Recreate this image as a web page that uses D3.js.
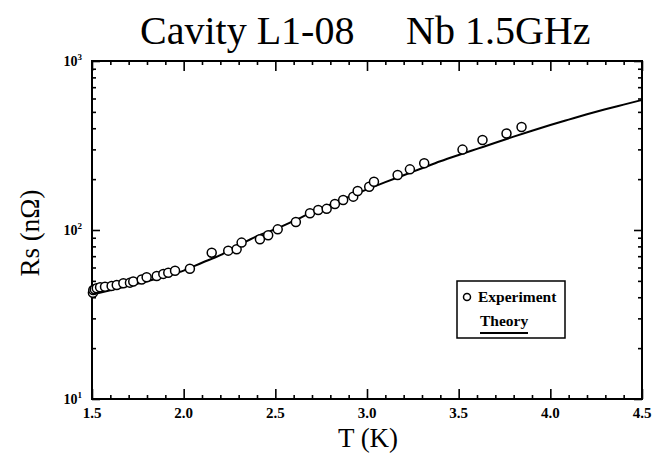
<!DOCTYPE html>
<html>
<head>
<meta charset="utf-8">
<script src="https://cdn.jsdelivr.net/npm/d3@7"></script>
<style>
  body { margin: 0; background: #fff; }
  text { font-family: "Liberation Serif", "Times New Roman", serif; fill: #000; }
</style>
</head>
<body>
<script>

// measured surface resistance, T in K, Rs in nOhm
var expT = [1.505, 1.507, 1.515, 1.526, 1.544, 1.571, 1.607, 1.635, 1.671, 1.707, 1.725,
            1.771, 1.798, 1.853, 1.889, 1.916, 1.953, 2.034, 2.153, 2.243, 2.289, 2.316,
            2.416, 2.461, 2.513, 2.612, 2.689, 2.734, 2.780, 2.825, 2.870, 2.925, 2.949,
            3.012, 3.038, 3.167, 3.234, 3.312, 3.521, 3.630, 3.761, 3.843];
var expRs = [42.5, 44.2, 44.6, 45.2, 45.8, 46.2, 46.7, 47.3, 48.4, 48.8, 49.6,
             51.0, 52.5, 53.4, 55.0, 55.9, 57.4, 59.0, 73.4, 75.5, 76.9, 84.2,
             88.1, 93.0, 100.9, 111.5, 125.6, 131.3, 133.4, 142.6, 150.6, 157.5, 170.2,
             180.4, 193.2, 211.5, 228.5, 248.1, 299, 341, 372, 407];

// BCS fit
var theoryT = [1.5, 1.6, 1.7, 1.8, 1.9, 2.0, 2.1, 2.2, 2.3, 2.4, 2.5, 2.6, 2.7, 2.8, 2.9,
               3.0, 3.1, 3.2, 3.3, 3.4, 3.5, 3.6, 3.7, 3.8, 3.9, 4.0, 4.1, 4.2, 4.3, 4.4, 4.5];
var theoryRs = [41.5, 44, 46.8, 49.8, 53.3, 57.5, 64, 71, 81, 92, 101, 113, 127, 141, 157,
                174, 192, 211, 232, 255, 278, 302, 328, 357, 387, 418, 450, 484, 518, 552, 588];

var xMajor = [1.5, 2.0, 2.5, 3.0, 3.5, 4.0, 4.5];
var xLabels = ["1.5", "2.0", "2.5", "3.0", "3.5", "4.0", "4.5"];
var yMajor = [10, 100, 1000];
var yExp = ["1", "2", "3"];

var width = 653,
    height = 455,
    pLeft = 92,
    pRight = 642,
    pTop = 61,
    pBottom = 399;

var svg = d3.select("body").append("svg")
    .attr("width", width)
    .attr("height", height);

var x = d3.scaleLinear().domain([1.5, 4.5]).range([pLeft, pRight]);
var y = d3.scaleLog().domain([10, 1000]).range([pBottom, pTop]);

var xMinor = d3.range(15, 46).map(function(d) { return d / 10; })
    .filter(function(d) { return xMajor.indexOf(d) < 0; });
var yMinor = [];
[10, 100].forEach(function(b) {
    for (var k = 2; k <= 9; k++) yMinor.push(b * k);
});

function tickAxis(gen, vals, size, tx, ty) {
    svg.append("g")
        .attr("transform", "translate(" + tx + "," + ty + ")")
        .call(gen.tickValues(vals).tickSize(size).tickSizeOuter(0).tickFormat(""))
        .call(function(g) {
            g.select(".domain").remove();
            g.selectAll("line").attr("stroke", "#000").attr("stroke-width", 1.6);
        });
}

// inward ticks on all four sides
tickAxis(d3.axisBottom(x), xMinor, -4, 0, pBottom);
tickAxis(d3.axisBottom(x), xMajor, -10, 0, pBottom);
tickAxis(d3.axisTop(x), xMinor, -4, 0, pTop);
tickAxis(d3.axisTop(x), xMajor, -10, 0, pTop);
tickAxis(d3.axisLeft(y), yMinor, -4, pLeft, 0);
tickAxis(d3.axisLeft(y), yMajor, -8, pLeft, 0);
tickAxis(d3.axisRight(y), yMinor, -4, pRight, 0);
tickAxis(d3.axisRight(y), yMajor, -8, pRight, 0);

svg.append("rect")
    .attr("x", pLeft).attr("y", pTop)
    .attr("width", pRight - pLeft).attr("height", pBottom - pTop)
    .attr("fill", "none").attr("stroke", "#000").attr("stroke-width", 2);

// tick labels
svg.selectAll(".xlab")
    .data(xMajor)
    .enter().append("text")
    .attr("class", "xlab")
    .attr("x", function(d) { return x(d); })
    .attr("y", pBottom + 19)
    .attr("text-anchor", "middle")
    .attr("font-size", 15)
    .attr("font-weight", "bold")
    .text(function(d, i) { return xLabels[i]; });

var ylab = svg.selectAll(".ylab")
    .data(yMajor)
    .enter().append("text")
    .attr("class", "ylab")
    .attr("x", pLeft - 10)
    .attr("y", function(d) { return y(d) + 5; })
    .attr("text-anchor", "end")
    .attr("font-size", 14)
    .attr("font-weight", "bold");
ylab.append("tspan").text("10");
ylab.append("tspan")
    .attr("dy", -6)
    .attr("font-size", 9)
    .text(function(d, i) { return yExp[i]; });

// theory curve
var line = d3.line()
    .x(function(d, i) { return x(theoryT[i]); })
    .y(function(d) { return y(d); })
    .curve(d3.curveMonotoneX);

svg.append("path")
    .attr("d", line(theoryRs))
    .attr("fill", "none")
    .attr("stroke", "#000")
    .attr("stroke-width", 2);

// experiment points
svg.selectAll(".pt")
    .data(expRs)
    .enter().append("circle")
    .attr("class", "pt")
    .attr("cx", function(d, i) { return x(expT[i]); })
    .attr("cy", function(d) { return y(d); })
    .attr("r", 4.5)
    .attr("fill", "#fff")
    .attr("stroke", "#000")
    .attr("stroke-width", 1.5);

// legend
var lg = svg.append("g");
lg.append("rect")
    .attr("x", 457).attr("y", 281)
    .attr("width", 108).attr("height", 57)
    .attr("fill", "#fff").attr("stroke", "#000").attr("stroke-width", 1.5);
lg.append("circle")
    .attr("cx", 467).attr("cy", 297).attr("r", 3.5)
    .attr("fill", "#fff").attr("stroke", "#000").attr("stroke-width", 1.5);
lg.append("text")
    .attr("x", 478).attr("y", 302)
    .attr("font-size", 15.5).attr("font-weight", "bold")
    .text("Experiment");
lg.append("text")
    .attr("x", 480).attr("y", 326)
    .attr("font-size", 15.5).attr("font-weight", "bold")
    .text("Theory");
lg.append("line")
    .attr("x1", 480).attr("x2", 528)
    .attr("y1", 333).attr("y2", 333)
    .attr("stroke", "#000").attr("stroke-width", 2);

// titles
svg.append("text")
    .attr("x", 140).attr("y", 44)
    .attr("font-size", 40)
    .text("Cavity L1-08");
svg.append("text")
    .attr("x", 406).attr("y", 44)
    .attr("font-size", 40)
    .text("Nb 1.5GHz");

svg.append("text")
    .attr("x", (pLeft + pRight) / 2 + 1)
    .attr("y", 447)
    .attr("text-anchor", "middle")
    .attr("font-size", 27)
    .text("T (K)");

svg.append("text")
    .attr("transform", "translate(39," + ((pTop + pBottom) / 2 + 3) + ") rotate(-90)")
    .attr("text-anchor", "middle")
    .attr("font-size", 27)
    .text("Rs (nΩ)");

</script>
</body>
</html>
